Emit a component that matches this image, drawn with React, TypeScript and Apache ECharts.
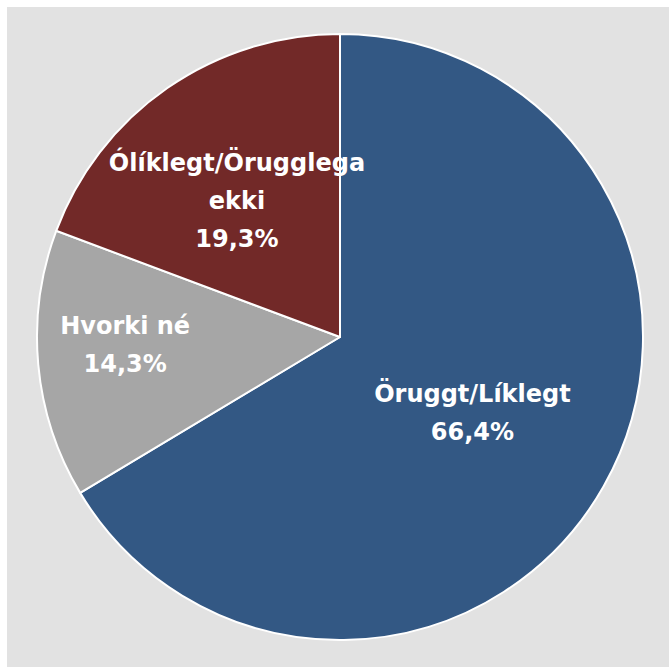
import React, { useEffect, useRef } from "react";
import * as echarts from "echarts";

const categories = ["Öruggt/Líklegt", "Hvorki né", "Ólíklegt/Örugglega\nekki"];
const values = [66.4, 14.3, 19.3];
const colors = ["#335884", "#a6a6a6", "#722928"];
const labelOffsets = [
  [-2, 0],
  [-61, -6],
  [-15, -9],
];

export default function App() {
  const ref = useRef<HTMLDivElement>(null);
  useEffect(() => {
    if (!ref.current) return;
    const chart = echarts.init(ref.current, null, { renderer: "svg" });
    chart.setOption({
      animation: false,
      backgroundColor: "#e2e2e2",
      series: [
        {
          type: "pie",
          center: [333, 330],
          radius: 303,
          startAngle: 90,
          clockwise: true,
          avoidLabelOverlap: false,
          itemStyle: { borderColor: "#ffffff", borderWidth: 2 },
          label: {
            show: true,
            position: "inside",
            color: "#ffffff",
            fontFamily: "DejaVu Sans",
            fontWeight: "bold",
            fontSize: 24,
            lineHeight: 38,
            formatter: (p: any) =>
              p.name + "\n" + p.value.toFixed(1).replace(".", ",") + "%",
          },
          labelLine: { show: false },
          data: categories.map((c, i) => ({
            name: c,
            value: values[i],
            itemStyle: { color: colors[i] },
            label: { offset: labelOffsets[i] },
          })),
        },
      ],
    });
    return () => chart.dispose();
  }, []);
  return (
    <div
      ref={ref}
      style={{ position: "absolute", left: 7, top: 7, width: 662, height: 660 }}
    />
  );
}
